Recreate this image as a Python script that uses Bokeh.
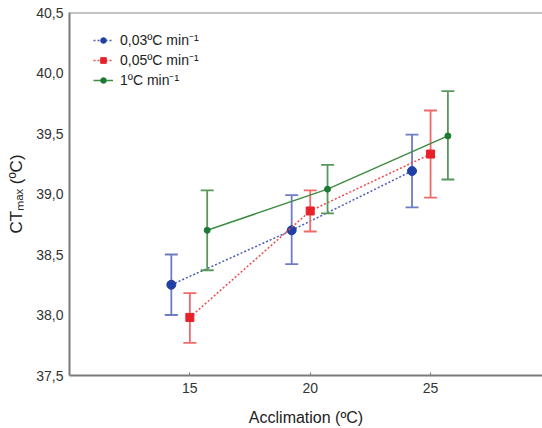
import math
from bokeh.plotting import figure
from bokeh.models import (FixedTicker, Span, Legend, LegendItem, ColumnDataSource, Range1d)
from bokeh.embed import file_html
from bokeh.resources import INLINE

# ---- data ----
acclimation = [15, 20, 25]

rate_labels = ["0,03ºC min⁻¹", "0,05ºC min⁻¹", "1ºC min⁻¹"]

blue_mean = [38.25, 38.70, 39.19]
blue_lo = [38.00, 38.42, 38.89]
blue_hi = [38.50, 38.99, 39.49]

red_mean = [37.98, 38.86, 39.33]
red_lo = [37.77, 38.69, 38.97]
red_hi = [38.18, 39.03, 39.69]

green_mean = [38.70, 39.04, 39.48]
green_lo = [38.37, 38.84, 39.12]
green_hi = [39.03, 39.24, 39.85]

y_ticks = [37.5, 38.0, 38.5, 39.0, 39.5, 40.0, 40.5]
y_tick_labels = ["37,5", "38,0", "38,5", "39,0", "39,5", "40,0", "40,5"]
x_ticks = [15, 20, 25]

FONT = "Liberation Sans"

X0, X1 = 10, 29.65
Y0, Y1 = 37.5, 40.5

p = figure(width=542, height=428, output_backend="svg", toolbar_location=None,
           x_range=Range1d(X0, X1), y_range=Range1d(Y0, Y1),
           min_border_left=69, min_border_right=0, min_border_top=12, min_border_bottom=53)
p.outline_line_color = None
p.grid.visible = False
p.background_fill_color = "white"

# axes
for ax in (p.xaxis, p.yaxis):
    ax.axis_line_color = "#7a7a7a"
    ax.axis_line_width = 2
    ax.major_label_text_font = FONT
    ax.major_label_text_font_size = "14px"
    ax.major_label_text_color = "#333333"
    ax.minor_tick_line_color = None
    ax.major_tick_line_color = "#7a7a7a"

p.xaxis.ticker = FixedTicker(ticks=x_ticks)
p.xaxis.major_tick_in = 3
p.xaxis.major_tick_out = 0
p.xaxis.major_label_standoff = 7
p.xaxis.axis_label = "Acclimation (ºC)"
p.xaxis.axis_label_text_font = FONT
p.xaxis.axis_label_text_font_size = "16px"
p.xaxis.axis_label_text_font_style = "normal"
p.xaxis.axis_label_text_color = "#222222"
p.xaxis.axis_label_standoff = 13

p.yaxis.ticker = FixedTicker(ticks=y_ticks)
p.yaxis.major_label_overrides = {t: l for t, l in zip(y_ticks, y_tick_labels)}
p.yaxis.major_tick_in = 0
p.yaxis.major_tick_out = 0
p.yaxis.major_label_standoff = 6
p.yaxis.axis_label = "CTₘₐₓ (ºC)"
p.yaxis.axis_label_text_font = FONT
p.yaxis.axis_label_text_font_size = "17px"
p.yaxis.axis_label_text_font_style = "normal"
p.yaxis.axis_label_text_color = "#222222"
p.yaxis.axis_label_standoff = 7

# top border
p.add_layout(Span(location=Y1, dimension="width", line_color="#8a8a8a", line_width=2))

series = [
    dict(mean=blue_mean, lo=blue_lo, hi=blue_hi, off=-0.77, marker="circle", size=9,
         mcol="#2140a3", ecol="#6d7cc4", lcol="#4a5cb8", dash="2 2", label=rate_labels[0]),
    dict(mean=red_mean, lo=red_lo, hi=red_hi, off=0.0, marker="square", size=8,
         mcol="#e8202a", ecol="#f06a6a", lcol="#ee4a4a", dash="2 2", label=rate_labels[1]),
    dict(mean=green_mean, lo=green_lo, hi=green_hi, off=0.72, marker="circle", size=6,
         mcol="#1b7a34", ecol="#5a985a", lcol="#3f8c44", dash="solid", label=rate_labels[2]),
]

cap = 0.27
items = []
for s in series:
    xs = [a + s["off"] for a in acclimation]
    src = ColumnDataSource(dict(x=xs, y=s["mean"], lo=s["lo"], hi=s["hi"],
                                x0=[x - cap for x in xs], x1=[x + cap for x in xs]))
    p.segment(x0="x", y0="lo", x1="x", y1="hi", source=src, line_color=s["ecol"], line_width=1.8)
    p.segment(x0="x0", y0="lo", x1="x1", y1="lo", source=src, line_color=s["ecol"], line_width=1.8)
    p.segment(x0="x0", y0="hi", x1="x1", y1="hi", source=src, line_color=s["ecol"], line_width=1.8)
    ln = p.line(x="x", y="y", source=src, line_color=s["lcol"], line_width=1.5, line_dash=s["dash"])
    mk = p.scatter(x="x", y="y", source=src, marker=s["marker"], size=s["size"],
                   fill_color=s["mcol"], line_color=s["mcol"])
    items.append(LegendItem(label=s["label"], renderers=[ln, mk]))

legend = Legend(items=items, location=(24, 286), padding=0, margin=0,
                border_line_color=None, background_fill_alpha=0,
                label_text_font=FONT, label_text_font_size="14px", label_text_color="#222222",
                glyph_width=20, glyph_height=14, spacing=1, label_standoff=7,
                label_height=14)
p.add_layout(legend)

open("out.html", "w").write(file_html(p, INLINE))
